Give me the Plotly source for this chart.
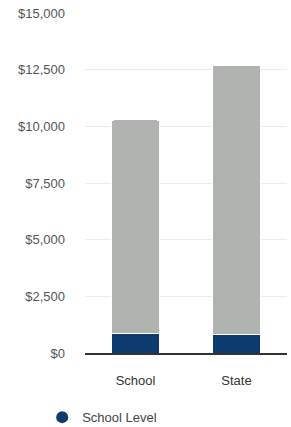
import plotly.graph_objects as go

categories = ["School", "State"]
school_level = [870, 800]
other_level = [9410, 11900]
tick_vals = [0, 2500, 5000, 7500, 10000, 12500, 15000]
tick_text = ["$0", "$2,500", "$5,000", "$7,500", "$10,000", "$12,500", "$15,000"]

BLUE = "#0d3b6f"
GRAY = "#b1b3b0"

fig = go.Figure()
fig.add_trace(go.Bar(
    x=categories, y=school_level, name="School Level",
    marker=dict(color=BLUE, line=dict(color="white", width=1)),
    width=0.47, showlegend=False,
))
fig.add_trace(go.Bar(
    x=categories, y=other_level, name="Other",
    marker=dict(color=GRAY, line=dict(color="white", width=1), cornerradius=2),
    width=0.47, showlegend=False,
))
# legend entry (circle marker)
fig.add_trace(go.Scatter(
    x=[None], y=[None], mode="markers", name="School Level",
    marker=dict(color=BLUE, size=13, symbol="circle"), showlegend=True,
))
fig.update_layout(
    barmode="stack",
    width=291, height=427,
    margin=dict(l=85, r=4, t=13, b=74, autoexpand=False),
    plot_bgcolor="white", paper_bgcolor="white",
    font=dict(family="Arial, Liberation Sans, sans-serif", size=13, color="#444"),
    showlegend=True,
    legend=dict(orientation="h", xref="container", yref="container",
                x=0.145, xanchor="left", y=0.023, yanchor="middle",
                font=dict(size=13, color="#444"), itemsizing="constant"),
)
fig.update_yaxes(
    range=[0, 15000], tickvals=tick_vals, ticktext=tick_text,
    showgrid=True, gridcolor="#ebebeb", gridwidth=1, zeroline=False,
    ticks="", ticklabelstandoff=19, tickfont=dict(size=13, color="#555"),
)
fig.update_xaxes(
    showline=True, linecolor="#333", linewidth=1.5, ticks="",
    ticklabelstandoff=15, tickfont=dict(size=13, color="#333"),
)
fig.write_html("out.html", config={"displayModeBar": False},
               post_script="document.body.style.margin='0px';")
